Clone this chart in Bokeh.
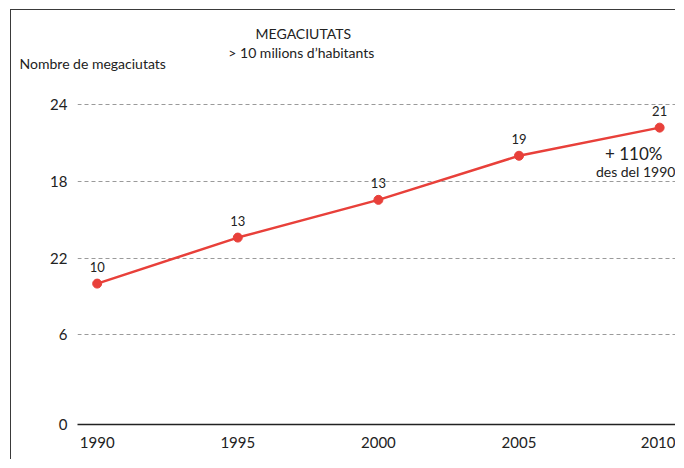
from bokeh.plotting import figure
from bokeh.models import FixedTicker, Label, ColumnDataSource, Range1d
from bokeh.core.properties import value
from bokeh.embed import file_html
from bokeh.resources import INLINE

# ---- data ----
years = [1990, 1995, 2000, 2005, 2010]
values = [10.0, 13.6, 16.55, 20.0, 22.2]
point_labels = ["10", "13", "13", "19", "21"]
x_ticks = [1990, 1995, 2000, 2005, 2010]
y_ticks = [-1.02, 6, 12, 18, 24]
y_tick_labels = ["0", "6", "22", "18", "24"]

FONT = "Lato"
RED = "#e8403a"
INK = "#222222"

src = ColumnDataSource(dict(x=years, y=values, lab=point_labels))

p = figure(width=665, height=450, output_backend="svg", toolbar_location=None,
           x_range=Range1d(1989.3, 2010.6), y_range=Range1d(-1.02, 24.4),
           min_border_left=66, min_border_right=0, min_border_top=89, min_border_bottom=36)
p.margin = (9, 0, 0, 10)
p.styles = {"border-left": "1.5px solid #3a3a3a", "border-top": "1.5px solid #3a3a3a"}
p.outline_line_color = None
p.background_fill_color = "white"

# axes
p.xaxis.ticker = FixedTicker(ticks=x_ticks)
p.xaxis.major_label_overrides = {t: str(t) for t in x_ticks}
p.xaxis.axis_line_color = INK
p.xaxis.axis_line_width = 1.5
p.xaxis.major_tick_line_color = None
p.xaxis.minor_tick_line_color = None
p.xaxis.major_label_standoff = 6
p.xaxis.major_label_text_font = FONT
p.xaxis.major_label_text_font_size = "15px"
p.xaxis.major_label_text_color = INK

p.yaxis.ticker = FixedTicker(ticks=y_ticks)
p.yaxis.major_label_overrides = {t: l for t, l in zip(y_ticks, y_tick_labels)}
p.yaxis.axis_line_color = None
p.yaxis.major_tick_line_color = None
p.yaxis.minor_tick_line_color = None
p.yaxis.major_label_standoff = 4
p.yaxis.major_label_text_font = FONT
p.yaxis.major_label_text_font_size = "15px"
p.yaxis.major_label_text_color = INK

p.xgrid.grid_line_color = None
p.ygrid.ticker = FixedTicker(ticks=[6, 12, 18, 24])
p.ygrid.grid_line_color = "#9a9a9a"
p.ygrid.grid_line_dash = "4 3"
p.ygrid.grid_line_width = 1

# series
p.line("x", "y", source=src, line_color=RED, line_width=2.5)
p.scatter("x", "y", source=src, size=9, fill_color=RED, line_color=RED)
p.text("x", "y", text="lab", source=src, y_offset=-12, text_align="center",
       text_baseline="bottom", text_font=value(FONT), text_font_size="13px",
       text_color=INK)

def lab(x, y, t, size, align="center", place="center"):
    obj = Label(x=x, y=y, text=t, text_font=FONT, text_font_size=size,
                text_color=INK, text_align=align, text_baseline="middle")
    if place == "center":
        p.add_layout(obj)
    else:
        p.add_layout(obj, place)

# texts above the frame
lab(1997.33, 29.55, "MEGACIUTATS", "14px", "center", "above")
lab(1997.26, 28.1, "> 10 milions d’habitants", "14px", "center", "above")
lab(1987.24, 27.2, "Nombre de megaciutats", "14px", "left", "above")

# annotations inside the frame
lab(2010.1, 20.17, "+ 110%", "17px", "right")
lab(2010.56, 18.76, "des del 1990", "14px", "right")

open("out.html", "w").write(file_html(p, INLINE))
